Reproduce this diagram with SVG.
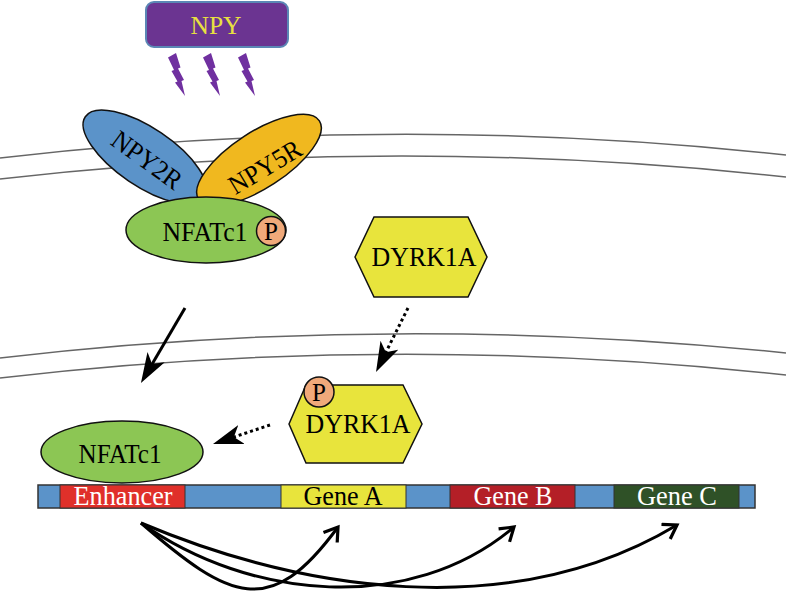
<svg xmlns="http://www.w3.org/2000/svg" width="786" height="594" viewBox="0 0 786 594">
<style>
.mem{fill:none;stroke:#666;stroke-width:1.5}
.lbl{font-family:"Liberation Serif","Times New Roman",serif;text-anchor:middle}
.ol{stroke:#111;stroke-width:1.5}
.arr{fill:none;stroke:#000;stroke-width:3}
.dot{stroke-dasharray:3,3}
</style>
<defs>
<marker id="stealth" markerUnits="userSpaceOnUse" markerWidth="32" markerHeight="22" refX="20" refY="10" orient="auto" viewBox="0 0 32 22">
<path d="M30,10 L0,0 L8,10 L0,20 Z" fill="#000"/>
</marker>
<marker id="open" markerUnits="userSpaceOnUse" markerWidth="22" markerHeight="22" refX="15" refY="10" orient="auto" viewBox="0 0 22 22">
<path d="M2,1.5 L15,10 L2,18.5" fill="none" stroke="#000" stroke-width="3.2"/>
</marker>
<path id="bolt" d="M0,4.5 L8,0 L12.5,14.5 L10,15.5 L16,27 L13.5,28 L17,43 L7,29.5 L9.5,28.5 L3.5,18 L6,17 Z" fill="#7030a0"/>
</defs>
<rect width="786" height="594" fill="#fff"/>

<g id="membranes">
<path class="mem" d="M0,158 Q393,112 786,155"/>
<path class="mem" d="M0,179 Q393,134 786,177"/>
<path class="mem" d="M0,358 Q393,312 786,353"/>
<path class="mem" d="M0,378 Q393,332 786,375"/>
</g>

<g id="npy">
<rect x="146" y="2" width="142" height="45" rx="8" fill="#6b3491" stroke="#5b87b5" stroke-width="2"/>
<text class="lbl" x="216" y="34" font-size="26" textLength="51" lengthAdjust="spacingAndGlyphs" fill="#e8e040">NPY</text>
<use href="#bolt" x="168" y="53"/>
<use href="#bolt" x="203" y="53"/>
<use href="#bolt" x="238" y="53"/>
</g>

<g id="npy2r">
<ellipse class="ol" cx="145" cy="157" rx="72" ry="29" transform="rotate(34 145 157)" fill="#5b93c9"/>
<text class="lbl" font-size="27" transform="translate(147,160) rotate(36)" y="9" textLength="80" lengthAdjust="spacingAndGlyphs">NPY2R</text>
</g>

<g id="npy5r">
<ellipse class="ol" cx="259" cy="160" rx="72" ry="28" transform="rotate(-33 259 160)" fill="#f0b81f"/>
<text class="lbl" font-size="27" transform="translate(265,167) rotate(-31)" y="9" textLength="80" lengthAdjust="spacingAndGlyphs">NPY5R</text>
</g>

<g id="nfatc1-top">
<ellipse class="ol" cx="206" cy="230" rx="80" ry="33" fill="#8cc654"/>
<text class="lbl" x="205" y="241" font-size="27" textLength="85" lengthAdjust="spacingAndGlyphs">NFATc1</text>
<circle class="ol" cx="271" cy="231" r="14.5" fill="#f0a97a"/>
<text class="lbl" x="271" y="240" font-size="25">P</text>
</g>

<g id="dyrk1a-top">
<polygon class="ol" points="355,257 374,217 468,217 487,257 468,297 374,297" fill="#e8e43c"/>
<text class="lbl" x="424" y="266" font-size="27" textLength="105" lengthAdjust="spacingAndGlyphs">DYRK1A</text>
</g>

<g id="dyrk1a-p">
<polygon class="ol" points="289,424 306,385 403,385 422,424 403,463 306,463" fill="#e8e43c"/>
<text class="lbl" x="358" y="433" font-size="27" textLength="105" lengthAdjust="spacingAndGlyphs">DYRK1A</text>
<circle class="ol" cx="319" cy="392" r="15" fill="#f0a97a"/>
<text class="lbl" x="319" y="401" font-size="25">P</text>
</g>

<g id="nfatc1-bottom">
<ellipse class="ol" cx="122" cy="452" rx="81" ry="31" fill="#8cc654"/>
<text class="lbl" x="120" y="463" font-size="27" textLength="83" lengthAdjust="spacingAndGlyphs">NFATc1</text>
</g>

<g id="dna">
<rect x="38" y="485" width="717" height="23" fill="#5b93c9" stroke="#333" stroke-width="1.5"/>
<rect x="60" y="485" width="125" height="23" fill="#e0302a" stroke="#333" stroke-width="1"/>
<rect x="281" y="485" width="125" height="23" fill="#e8e43c" stroke="#333" stroke-width="1"/>
<rect x="450" y="485" width="125" height="23" fill="#b41f27" stroke="#333" stroke-width="1"/>
<rect x="614" y="485" width="125" height="23" fill="#2f5127" stroke="#333" stroke-width="1"/>
<text class="lbl" x="123" y="505" font-size="27" textLength="99" lengthAdjust="spacingAndGlyphs" fill="#fff">Enhancer</text>
<text class="lbl" x="343" y="505" font-size="27" textLength="79" lengthAdjust="spacingAndGlyphs" fill="#000">Gene A</text>
<text class="lbl" x="513" y="505" font-size="27" textLength="79" lengthAdjust="spacingAndGlyphs" fill="#fff">Gene B</text>
<text class="lbl" x="677" y="505" font-size="27" textLength="80" lengthAdjust="spacingAndGlyphs" fill="#fff">Gene C</text>
</g>

<g id="connectors">
<path class="arr" d="M185,308 L146,374.4" marker-end="url(#stealth)"/>
<path class="arr dot" d="M408,308 L380.5,363" marker-end="url(#stealth)"/>
<path class="arr dot" d="M270,425 L222.5,440.8" marker-end="url(#stealth)"/>
<path class="arr" d="M141,523 C230,600 270,620 338,527" marker-end="url(#open)"/>
<path class="arr" d="M141,523 C250,600 410,615 514,527" marker-end="url(#open)"/>
<path class="arr" d="M141,523 C300,590 510,625 677,525" marker-end="url(#open)"/>
</g>
</svg>
